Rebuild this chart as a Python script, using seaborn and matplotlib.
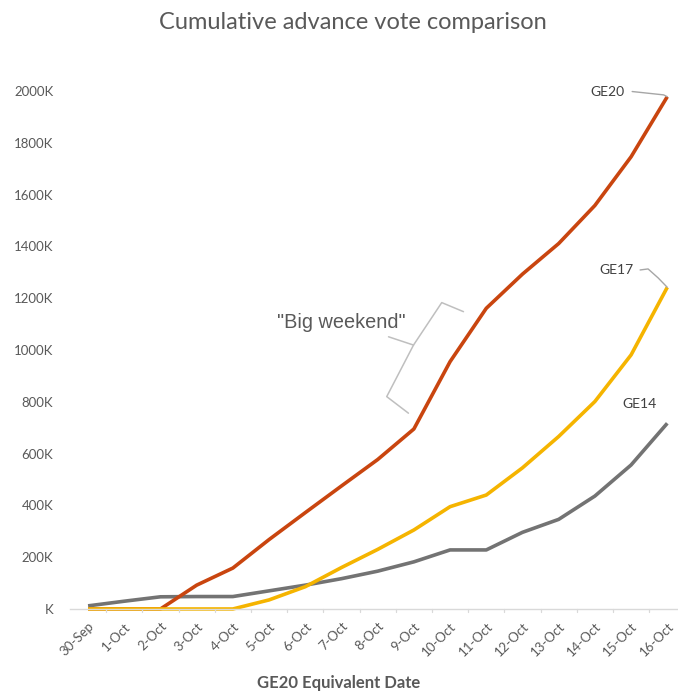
import matplotlib
matplotlib.use("Agg")
import matplotlib.pyplot as plt
import seaborn as sns
import pandas as pd

# Advance votes (thousands), cumulative by equivalent day of the GE20 calendar
dates = ["30-Sep", "1-Oct", "2-Oct", "3-Oct", "4-Oct", "5-Oct", "6-Oct", "7-Oct",
         "8-Oct", "9-Oct", "10-Oct", "11-Oct", "12-Oct", "13-Oct", "14-Oct",
         "15-Oct", "16-Oct"]
ge14 = [12, 30, 47, 48, 48, 70, 92, 117, 146, 182, 228, 228, 296, 346, 436, 556, 717]
ge17 = [0, 0, 0, 0, 0, 35, 86, 160, 230, 305, 395, 440, 545, 666, 801, 981, 1242]
ge20 = [0, 0, 0, 92, 158, 268, 372, 475, 577, 695, 955, 1161, 1293, 1411, 1558, 1746, 1978]

y_ticks = [0, 200, 400, 600, 800, 1000, 1200, 1400, 1600, 1800, 2000]
y_tick_labels = ["K", "200K", "400K", "600K", "800K", "1000K", "1200K",
                 "1400K", "1600K", "1800K", "2000K"]

series_names = ["GE14", "GE20", "GE17"]
series_values = [ge14, ge20, ge17]
series_colors = {"GE14": "#737373", "GE20": "#C9450F", "GE17": "#F5B400"}

rows = []
for name, vals in zip(series_names, series_values):
    for i, v in enumerate(vals):
        rows.append({"idx": i, "votes": v, "election": name})
df = pd.DataFrame(rows)

sns.set_theme(style="white")
plt.rcParams["font.family"] = ["Lato", "DejaVu Sans"]

fig = plt.figure(figsize=(6.78, 6.91), dpi=100)
ax = fig.add_axes([0.1032, 0.1187, 0.897, 0.7496])

sns.lineplot(data=df, x="idx", y="votes", hue="election", hue_order=series_names,
             palette=series_colors, linewidth=2.6, legend=False, ax=ax,
             clip_on=False)
for ln in ax.get_lines():
    ln.set_solid_capstyle("butt")
    ln.set_solid_joinstyle("round")

ax.set_xlim(-0.5, 16.3)
ax.set_ylim(0, 2000)

text_gray = "#595959"
ax.set_yticks(y_ticks)
ax.set_yticklabels(y_tick_labels, color=text_gray, fontsize=9.5)
ax.set_xticks(range(len(dates)))
ax.set_xticklabels(dates, rotation=45, ha="right", rotation_mode="anchor",
                   color=text_gray, fontsize=9.5)
ax.tick_params(axis="x", length=0, pad=8)
ax.tick_params(axis="y", length=0, pad=12)

# category boundary tick marks below the axis line
for b in [i + 0.5 for i in range(len(dates))]:
    ax.plot([b, b], [0, -12], color="#D9D9D9", lw=0.9, clip_on=False)

for side in ["left", "right", "top"]:
    ax.spines[side].set_visible(False)
ax.spines["bottom"].set_color("#D9D9D9")
ax.spines["bottom"].set_linewidth(1.0)

ax.set_xlabel("GE20 Equivalent Date", fontsize=12, fontweight="bold",
              color=text_gray, va="center")
ax.xaxis.set_label_coords(0.441, -0.143)
ax.set_ylabel("")
fig.suptitle("Cumulative advance vote comparison", fontsize=17,
             color=text_gray, x=0.52, y=0.982)

# series labels with leader lines
last = len(dates) - 1
ax.text(14.83, 1996, "GE20", fontsize=10, color="#404040",
        ha="right", va="center", clip_on=False)
ax.plot([15.03, 15.9, last], [1998, 1985, ge20[-1]],
        color="#A6A6A6", lw=1.0, clip_on=False)
ax.text(15.06, 1309, "GE17", fontsize=10, color="#404040",
        ha="right", va="center")
ax.plot([15.25, 15.47, 15.75, last], [1309, 1313, 1278, ge17[-1]],
        color="#A6A6A6", lw=1.0, clip_on=False)
ax.text(15.71, 791, "GE14", fontsize=10, color="#404040",
        ha="right", va="center")

# bracket marking the big weekend
ax.plot([10.37, 9.77, 8.99, 8.30], [1148, 1183, 1019, 1051],
        color="#BFBFBF", lw=1.1, solid_joinstyle="round")
ax.plot([8.99, 8.25, 8.85], [1019, 820, 756],
        color="#BFBFBF", lw=1.1, solid_joinstyle="round")
ax.text(7.0, 1108, "\"Big weekend\"", fontsize=14.3, color="#595959",
        ha="center", va="center", family=["Liberation Sans", "DejaVu Sans"])

fig.savefig("out.png", dpi=100, facecolor="white")
